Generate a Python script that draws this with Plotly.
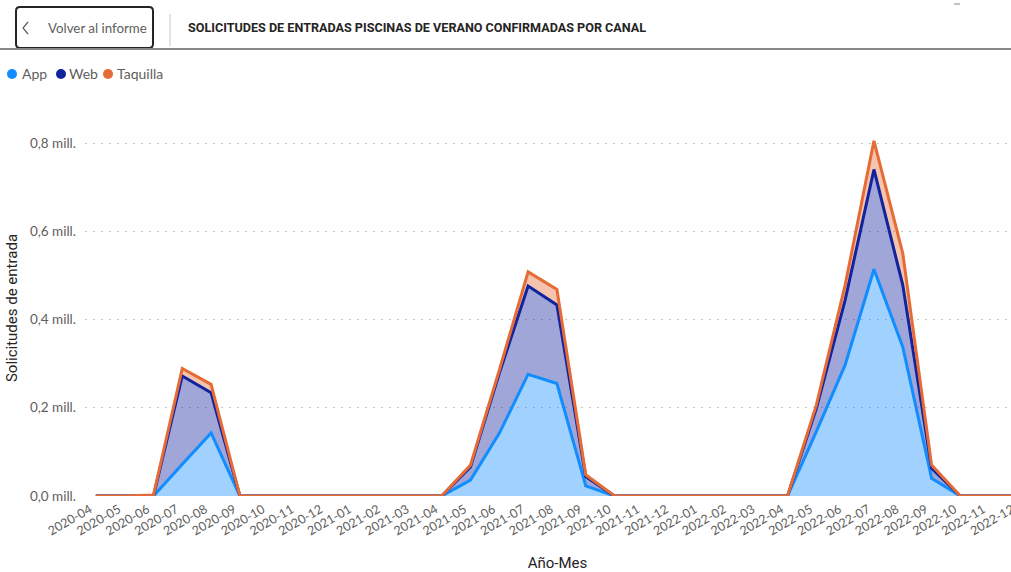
import plotly.graph_objects as go

# Año-Mes categories
meses = [
    "2020-04", "2020-05", "2020-06", "2020-07", "2020-08", "2020-09", "2020-10",
    "2020-11", "2020-12", "2021-01", "2021-02", "2021-03", "2021-04", "2021-05",
    "2021-06", "2021-07", "2021-08", "2021-09", "2021-10", "2021-11", "2021-12",
    "2022-01", "2022-02", "2022-03", "2022-04", "2022-05", "2022-06", "2022-07",
    "2022-08", "2022-09", "2022-10", "2022-11", "2022-12",
]

# Solicitudes confirmadas por canal
app = [
    0, 0, 0, 72000, 143000, 0, 0, 0, 0, 0, 0, 0, 0, 36000, 142000, 276000,
    255000, 23000, 0, 0, 0, 0, 0, 0, 0, 146000, 297000, 514000, 338000, 40000,
    0, 0, 0,
]
web = [
    0, 0, 0, 200000, 91000, 0, 0, 0, 0, 0, 0, 0, 0, 30000, 136000, 200000,
    178000, 21000, 0, 0, 0, 0, 0, 0, 0, 52000, 147000, 226000, 140000, 23000,
    0, 0, 0,
]
taquilla = [
    0, 0, 2000, 17000, 19000, 0, 0, 0, 0, 0, 0, 0, 0, 4000, 7000, 32000,
    35000, 4000, 0, 0, 0, 0, 0, 0, 0, 8000, 34000, 65000, 72000, 7000,
    0, 0, 0,
]

y_ticks = [0, 200000, 400000, 600000, 800000]
y_labels = ["0,0 mill.", "0,2 mill.", "0,4 mill.", "0,6 mill.", "0,8 mill."]

canales = ["App", "Web", "Taquilla"]
colores = ["#118DFF", "#12239E", "#E66C37"]
rellenos = ["rgba(17,141,255,0.4)", "rgba(18,35,158,0.4)", "rgba(230,108,55,0.4)"]

# Figure geometry (pixels)
W, H = 1030, 572
L, R, T, B = 85, 0, 120, 76
PW, PH = W - L - R, H - T - B


def px(x):
    return (x - L) / PW


def py(y):
    return (H - B - y) / PH


fig = go.Figure()
for nombre, serie, color, relleno in zip(canales, [app, web, taquilla], colores, rellenos):
    fig.add_trace(go.Scatter(
        x=meses, y=serie, name=nombre, mode="lines", stackgroup="canal",
        line=dict(color=color, width=3), fillcolor=relleno, showlegend=False,
    ))

FONT = "Lato, 'Open Sans', sans-serif"
GRIS = "#605E5C"
OSCURO = "#252423"

shapes = []
annotations = []

# "Volver al informe" button with rounded corners
x0, y0, x1, y1, r = 16, 7, 153, 48, 4
path = (
    f"M {px(x0 + r)},{py(y0)} L {px(x1 - r)},{py(y0)} "
    f"Q {px(x1)},{py(y0)} {px(x1)},{py(y0 + r)} L {px(x1)},{py(y1 - r)} "
    f"Q {px(x1)},{py(y1)} {px(x1 - r)},{py(y1)} L {px(x0 + r)},{py(y1)} "
    f"Q {px(x0)},{py(y1)} {px(x0)},{py(y1 - r)} L {px(x0)},{py(y0 + r)} "
    f"Q {px(x0)},{py(y0)} {px(x0 + r)},{py(y0)} Z"
)
shapes.append(dict(type="path", xref="paper", yref="paper", path=path,
                   line=dict(color=OSCURO, width=2)))
# chevron
shapes.append(dict(type="path", xref="paper", yref="paper",
                   path=f"M {px(28)},{py(22)} L {px(23)},{py(28)} L {px(28)},{py(34)}",
                   line=dict(color=GRIS, width=1.2)))
annotations.append(dict(text="Volver al informe", x=px(46), y=py(28), xref="paper",
                        yref="paper", xanchor="left", yanchor="middle", showarrow=False,
                        font=dict(family=FONT, size=13.3, color=GRIS)))
# separator and header rule
shapes.append(dict(type="line", xref="paper", yref="paper", x0=px(170), x1=px(170),
                   y0=py(14), y1=py(46), line=dict(color="#C8C6C4", width=1)))
shapes.append(dict(type="line", xref="paper", yref="paper", x0=px(0), x1=px(W),
                   y0=py(49), y1=py(49), line=dict(color="#8A8886", width=2)))
shapes.append(dict(type="line", xref="paper", yref="paper", x0=px(954), x1=px(960),
                   y0=py(4), y1=py(4), line=dict(color="#8A8886", width=1)))
annotations.append(dict(
    text="<b>SOLICITUDES DE ENTRADAS PISCINAS DE VERANO CONFIRMADAS POR CANAL</b>",
    x=px(186), y=py(28), xref="paper", yref="paper", xanchor="left", yanchor="middle",
    showarrow=False, font=dict(family="Roboto, sans-serif", size=12.6, color=OSCURO)))

# legend
leyenda_x = [(12, 20), (61, 67), (108, 115)]
for nombre, color, (cx, tx) in zip(canales, colores, leyenda_x):
    shapes.append(dict(type="circle", xref="paper", yref="paper",
                       x0=px(cx - 5), x1=px(cx + 5), y0=py(69), y1=py(79),
                       fillcolor=color, line=dict(width=0)))
    annotations.append(dict(text=nombre, x=px(tx), y=py(74), xref="paper", yref="paper",
                            xanchor="left", yanchor="middle", showarrow=False,
                            font=dict(family=FONT, size=14, color=GRIS)))

fig.update_layout(
    width=W, height=H,
    margin=dict(l=L, r=R, t=T, b=B, autoexpand=False),
    paper_bgcolor="white", plot_bgcolor="white",
    showlegend=False,
    shapes=shapes, annotations=annotations,
    xaxis=dict(
        type="category", range=[-0.375, -0.375 + PW / 28.82],
        tickangle=-30, showgrid=False, zeroline=False, showline=False, ticks="",
        ticklabelshift=-6, ticklabelstandoff=3,
        tickfont=dict(family=FONT, size=12.5, color=GRIS),
        title=dict(text="Año-Mes", standoff=20,
                   font=dict(family="Roboto, sans-serif", size=15, color=OSCURO)),
        automargin=False,
    ),
    yaxis=dict(
        range=[0, (H - B - T) / 441.25 * 1e6],
        tickvals=y_ticks, ticktext=y_labels,
        showgrid=True, gridcolor="#C8C6C4", griddash="2px,6px", gridwidth=1,
        zeroline=False, showline=False, ticks="", ticklabelstandoff=8,
        tickfont=dict(family=FONT, size=13.5, color=GRIS),
        title=dict(text="Solicitudes de entrada", standoff=8,
                   font=dict(family="Roboto, sans-serif", size=15, color=OSCURO)),
        automargin=False,
    ),
)

fig.write_html(
    "out.html",
    post_script="document.documentElement.style.overflow='hidden';"
                "document.body.style.overflow='hidden';",
)
